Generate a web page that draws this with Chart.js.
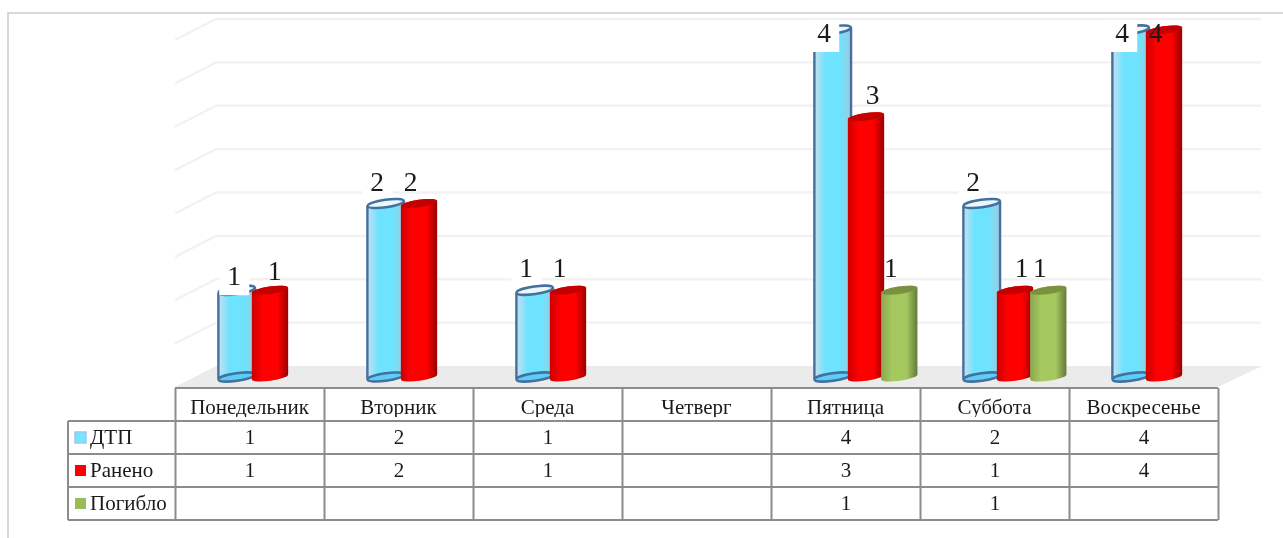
<!DOCTYPE html>
<html lang="ru">
<head>
<meta charset="utf-8">
<style>
  html, body { margin: 0; padding: 0; background: #fff; overflow: hidden; }
  canvas { display: block; }
</style>
<script src="https://cdn.jsdelivr.net/npm/chart.js@4/dist/chart.umd.min.js"></script>
</head>
<body>
<canvas id="chart" width="1283" height="538"></canvas>
<script>
const categories = ["Понедельник", "Вторник", "Среда", "Четверг", "Пятница", "Суббота", "Воскресенье"];
const dtp = [1, 2, 1, null, 4, 2, 4];
const raneno = [1, 2, 1, null, 3, 1, 4];
const pogiblo = [null, null, null, null, 1, 1, null];
const seriesNames = ["ДТП", "Ранено", "Погибло"];
const yTicks = [0, 0.5, 1, 1.5, 2, 2.5, 3, 3.5, 4];

const SERIF = "'Liberation Serif', 'Times New Roman', serif";
const DEPTH_X = 41, DEPTH_Y = 21;   // floor depth of the 3d box
const BAR_SHIFT = 20, GRID_LIFT = 11;
const TABLE_LEFT = 68, TABLE_ROWS = [388, 421, 454, 487, 520];

const looks = [
  { stops: ["#c8e0ee", "#6ee3ff", "#6ee3ff", "#9fc9dd"], top: "#eaf7fb", bottom: "#5ccdf5", stroke: "#44709f", swatch: "#70e8ff" },
  { stops: ["#cc0000", "#ff0000", "#ff0000", "#980000"], top: "#c40000", bottom: null, stroke: null, swatch: "#ff0000" },
  { stops: ["#8aa850", "#a5c85f", "#a5c85f", "#64783a"], top: "#7a923f", bottom: null, stroke: null, swatch: "#9bbb59" }
];

// labels that Excel moved away from the default spot: "series-category": [dx, dy]
const labelNudge = { "0-0": [6, 8], "1-0": [13, 3], "1-4": [15, 0], "1-5": [15, 0] };

function cylinder(ctx, cx, top, base, r, look) {
  const rot = -8 * Math.PI / 180, ry = 3.8;
  const g = ctx.createLinearGradient(cx - r, 0, cx + r, 0);
  g.addColorStop(0, look.stops[0]);
  g.addColorStop(0.3, look.stops[1]);
  g.addColorStop(0.7, look.stops[2]);
  g.addColorStop(1, look.stops[3]);
  ctx.beginPath();
  ctx.ellipse(cx, base, r, ry, rot, 0, Math.PI);
  ctx.ellipse(cx, top, r, ry, rot, Math.PI, Math.PI * 2);
  ctx.closePath();
  ctx.fillStyle = g;
  ctx.fill();
  if (look.bottom) {
    ctx.beginPath();
    ctx.ellipse(cx, base, r, ry, rot, 0, Math.PI * 2);
    ctx.fillStyle = look.bottom;
    ctx.fill();
  }
  ctx.beginPath();
  ctx.ellipse(cx, top, r, ry, rot, 0, Math.PI * 2);
  ctx.fillStyle = look.top;
  ctx.fill();
  if (look.stroke) {
    const dy = r * Math.sin(8 * Math.PI / 180);
    ctx.strokeStyle = look.stroke;
    ctx.lineWidth = 2.4;
    ctx.stroke();
    ctx.beginPath();
    ctx.ellipse(cx, base, r, ry, rot, 0, Math.PI * 2);
    ctx.moveTo(cx - r, top + dy);
    ctx.lineTo(cx - r, base + dy);
    ctx.moveTo(cx + r, top - dy);
    ctx.lineTo(cx + r, base - dy);
    ctx.stroke();
  }
}

const boxPlugin = {
  id: "box3d",
  beforeDatasetsDraw(chart) {
    const { ctx, chartArea: a, scales: { y } } = chart;
    ctx.save();
    // page frame
    ctx.strokeStyle = "#d9d9d9";
    ctx.lineWidth = 2;
    ctx.beginPath();
    ctx.moveTo(8, 538);
    ctx.lineTo(8, 13);
    ctx.lineTo(1283, 13);
    ctx.stroke();
    // floor
    const backY = y.getPixelForValue(0) - GRID_LIFT;
    ctx.fillStyle = "#ebebeb";
    ctx.beginPath();
    ctx.moveTo(a.left, backY + DEPTH_Y);
    ctx.lineTo(a.left + DEPTH_X, backY);
    ctx.lineTo(a.right + DEPTH_X + 3, backY);
    ctx.lineTo(a.right, backY + DEPTH_Y);
    ctx.fill();
    // walls
    ctx.strokeStyle = "#f2f2f2";
    ctx.lineWidth = 2.4;
    yTicks.forEach(v => {
      if (v === 0) return;
      const py = y.getPixelForValue(v) - GRID_LIFT;
      ctx.beginPath();
      ctx.moveTo(a.left, py + DEPTH_Y);
      ctx.lineTo(a.left + DEPTH_X, py);
      ctx.lineTo(a.right + DEPTH_X + 2, py);
      ctx.stroke();
    });
    ctx.restore();
  },
  beforeDatasetDraw() {
    return false; // bars are painted as cylinders below
  },
  afterDatasetsDraw(chart) {
    const { ctx, chartArea: a, scales: { x } } = chart;
    ctx.save();
    chart.data.datasets.forEach((ds, d) => {
      chart.getDatasetMeta(d).data.forEach((bar, i) => {
        if (ds.data[i] === null) return;
        const p = bar.getProps(["x", "y", "base", "width"], true);
        cylinder(ctx, p.x + BAR_SHIFT + 0.5, p.y, p.base, p.width / 2 + 1.7, looks[d]);
      });
    });
    // value labels
    ctx.textAlign = "center";
    ctx.textBaseline = "middle";
    chart.data.datasets.forEach((ds, d) => {
      chart.getDatasetMeta(d).data.forEach((bar, i) => {
        if (ds.data[i] === null) return;
        const p = bar.getProps(["x", "y"], true);
        const nudge = labelNudge[d + "-" + i];
        const n = nudge || [0, 0];
        const lx = p.x + BAR_SHIFT - 8 + n[0];
        const ly = (ds.data[i] === 4 ? p.y + 5 : p.y - 20) + n[1];
        if (d === 0) {
          ctx.fillStyle = "#fff";
          ctx.fillRect(lx - 15, ly - 15, 30, nudge || ds.data[i] === 4 ? 32 : 29);
        }
        ctx.fillStyle = "#1a1a1a";
        ctx.font = "27.5px " + SERIF;
        ctx.fillText(String(ds.data[i]), lx, ly);
      });
    });
    // data table
    const cols = [a.left];
    categories.forEach((c, i) => cols.push(a.left + (i + 1) * (a.right - a.left) / categories.length));
    const lastRow = TABLE_ROWS[TABLE_ROWS.length - 1];
    ctx.strokeStyle = "#8c8c8c";
    ctx.lineWidth = 2;
    ctx.beginPath();
    TABLE_ROWS.forEach((ry, r) => {
      ctx.moveTo(r === 0 ? a.left : TABLE_LEFT, ry);
      ctx.lineTo(a.right, ry);
    });
    ctx.moveTo(TABLE_LEFT, TABLE_ROWS[1]);
    ctx.lineTo(TABLE_LEFT, lastRow);
    cols.forEach(cx => {
      ctx.moveTo(cx + 0.5, TABLE_ROWS[0]);
      ctx.lineTo(cx + 0.5, lastRow);
    });
    ctx.stroke();
    chart.data.datasets.forEach((ds, d) => {
      const cy = (TABLE_ROWS[d + 1] + TABLE_ROWS[d + 2]) / 2;
      ctx.fillStyle = looks[d].swatch;
      ctx.fillRect(75, cy - 5.5, 11, 11);
      if (d === 0) {
        ctx.strokeStyle = "#a9c1e6";
        ctx.lineWidth = 1.5;
        ctx.strokeRect(75, cy - 5.5, 11, 11);
      }
      ctx.fillStyle = "#1a1a1a";
      ctx.font = "21px " + SERIF;
      ctx.textAlign = "left";
      ctx.fillText(seriesNames[d], 90, cy + 1);
      ctx.textAlign = "center";
      ds.data.forEach((v, i) => {
        if (v !== null) ctx.fillText(String(v), x.getPixelForTick(i) + 0.5, cy + 1);
      });
    });
    ctx.restore();
  }
};

new Chart(document.getElementById("chart"), {
  type: "bar",
  plugins: [boxPlugin],
  data: {
    labels: categories,
    datasets: [
      { label: seriesNames[0], data: dtp, backgroundColor: looks[0].swatch },
      { label: seriesNames[1], data: raneno, backgroundColor: looks[1].swatch },
      { label: seriesNames[2], data: pogiblo, backgroundColor: looks[2].swatch }
    ]
  },
  options: {
    responsive: false,
    animation: false,
    devicePixelRatio: 1,
    layout: { padding: { left: 175, right: 65, top: 30, bottom: 121 } },
    plugins: { legend: { display: false }, tooltip: { enabled: false } },
    datasets: { bar: { categoryPercentage: 0.67, barPercentage: 1 } },
    scales: {
      x: {
        grid: { display: false, drawTicks: false },
        border: { display: false },
        ticks: {
          color: "#1a1a1a",
          font: { family: SERIF, size: 21 },
          padding: 19,
          maxRotation: 0,
          autoSkip: false
        },
        afterFit(scale) { scale.height = 40; }
      },
      y: { display: false, min: 0, max: 4 }
    }
  }
});
</script>
</body>
</html>
